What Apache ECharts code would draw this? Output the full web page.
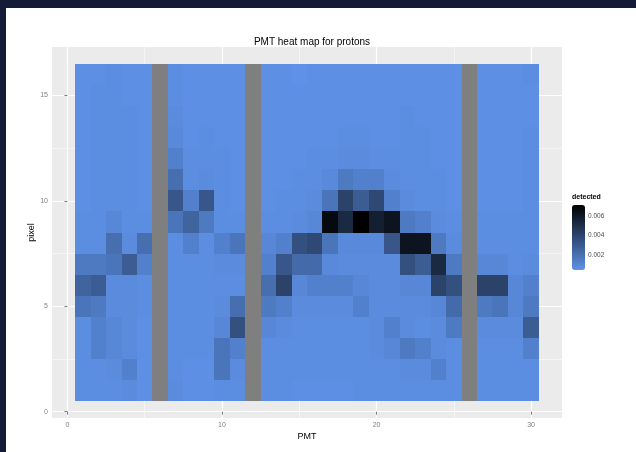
<!DOCTYPE html>
<html>
<head>
<meta charset="utf-8">
<script src="https://cdn.jsdelivr.net/npm/echarts@6/dist/echarts.min.js"></script>
<style>
html,body{margin:0;padding:0;background:#ffffff;}
#chart{width:636px;height:452px;}
</style>
</head>
<body>
<div id="chart"></div>
<script>
// ---- data ----
const pmt = [1,2,3,4,5,6,7,8,9,10,11,12,13,14,15,16,17,18,19,20,21,22,23,24,25,26,27,28,29,30];
const pixel = [1,2,3,4,5,6,7,8,9,10,11,12,13,14,15,16];

const pixel16 = [0.0006,0.0006,0.0007,0.0006,0.0006,null,0.0007,0.0006,0.0006,0.0006,0.0006,null,0.0006,0.0006,0.0005,0.0006,0.0006,0.0006,0.0006,0.0006,0.0006,0.0006,0.0006,0.0006,0.0006,null,0.0006,0.0006,0.0006,0.0007];
const pixel15 = [0.0006,0.0007,0.0007,0.0006,0.0006,null,0.0007,0.0006,0.0006,0.0006,0.0006,null,0.0006,0.0006,0.0006,0.0006,0.0006,0.0006,0.0006,0.0006,0.0006,0.0006,0.0006,0.0006,0.0006,null,0.0006,0.0006,0.0006,0.0006];
const pixel14 = [0.0006,0.0007,0.0007,0.0007,0.0006,null,0.0008,0.0006,0.0006,0.0006,0.0006,null,0.0006,0.0006,0.0006,0.0006,0.0006,0.0006,0.0006,0.0006,0.0006,0.0007,0.0006,0.0006,0.0006,null,0.0006,0.0006,0.0006,0.0006];
const pixel13 = [0.0006,0.0007,0.0007,0.0007,0.0006,null,0.0009,0.0006,0.0007,0.0006,0.0006,null,0.0006,0.0006,0.0006,0.0006,0.0006,0.0007,0.0007,0.0006,0.0006,0.0007,0.0007,0.0006,0.0006,null,0.0006,0.0006,0.0006,0.0007];
const pixel12 = [0.0006,0.0007,0.0007,0.0007,0.0006,null,0.0013,0.0007,0.0007,0.0007,0.0006,null,0.0006,0.0006,0.0006,0.0007,0.0007,0.0008,0.0008,0.0007,0.0007,0.0007,0.0007,0.0006,0.0006,null,0.0006,0.0006,0.0006,0.0007];
const pixel11 = [0.0006,0.0007,0.0007,0.0007,0.0006,null,0.0021,0.0007,0.0008,0.0007,0.0006,null,0.0006,0.0006,0.0007,0.0007,0.0009,0.0016,0.0013,0.0013,0.0008,0.0007,0.0007,0.0007,0.0006,null,0.0006,0.0006,0.0006,0.0007];
const pixel10 = [0.0006,0.0007,0.0007,0.0007,0.0006,null,0.0032,0.0013,0.0032,0.0007,0.0006,null,0.0006,0.0007,0.0007,0.0008,0.0018,0.0041,0.0029,0.0038,0.0013,0.0008,0.0007,0.0007,0.0006,null,0.0006,0.0006,0.0006,0.0007];
const pixel9  = [0.0007,0.0007,0.0010,0.0007,0.0007,null,0.0018,0.0026,0.0016,0.0007,0.0007,null,0.0007,0.0007,0.0008,0.0010,0.0067,0.0052,0.0071,0.0057,0.0062,0.0016,0.0013,0.0008,0.0007,null,0.0007,0.0007,0.0007,0.0007];
const pixel8  = [0.0007,0.0007,0.0021,0.0008,0.0021,null,0.0007,0.0013,0.0007,0.0013,0.0018,null,0.0010,0.0013,0.0035,0.0038,0.0018,0.0009,0.0009,0.0009,0.0032,0.0062,0.0062,0.0016,0.0008,null,0.0007,0.0007,0.0007,0.0007];
const pixel7  = [0.0016,0.0016,0.0018,0.0029,0.0013,null,0.0007,0.0007,0.0007,0.0008,0.0008,null,0.0013,0.0032,0.0023,0.0023,0.0009,0.0008,0.0008,0.0008,0.0008,0.0035,0.0029,0.0052,0.0016,null,0.0010,0.0010,0.0007,0.0008];
const pixel6  = [0.0026,0.0029,0.0008,0.0008,0.0007,null,0.0007,0.0007,0.0007,0.0007,0.0007,null,0.0021,0.0041,0.0010,0.0013,0.0013,0.0013,0.0010,0.0008,0.0008,0.0010,0.0010,0.0041,0.0035,null,0.0041,0.0041,0.0010,0.0013];
const pixel5  = [0.0018,0.0016,0.0008,0.0008,0.0007,null,0.0007,0.0007,0.0007,0.0008,0.0021,null,0.0016,0.0013,0.0008,0.0008,0.0008,0.0008,0.0013,0.0008,0.0008,0.0008,0.0008,0.0010,0.0023,null,0.0016,0.0018,0.0010,0.0016];
const pixel4  = [0.0007,0.0013,0.0010,0.0008,0.0006,null,0.0007,0.0007,0.0007,0.0010,0.0035,null,0.0010,0.0008,0.0007,0.0007,0.0007,0.0007,0.0007,0.0008,0.0013,0.0008,0.0007,0.0008,0.0016,null,0.0008,0.0008,0.0008,0.0029];
const pixel3  = [0.0007,0.0013,0.0010,0.0008,0.0006,null,0.0007,0.0007,0.0007,0.0018,0.0013,null,0.0007,0.0007,0.0007,0.0007,0.0007,0.0007,0.0007,0.0008,0.0010,0.0016,0.0013,0.0008,0.0007,null,0.0007,0.0007,0.0007,0.0013];
const pixel2  = [0.0007,0.0007,0.0008,0.0013,0.0006,null,0.0007,0.0006,0.0006,0.0018,0.0008,null,0.0007,0.0007,0.0007,0.0007,0.0007,0.0007,0.0007,0.0007,0.0007,0.0008,0.0008,0.0013,0.0007,null,0.0007,0.0007,0.0007,0.0007];
const pixel1  = [0.0007,0.0007,0.0007,0.0008,0.0006,null,0.0008,0.0006,0.0006,0.0007,0.0007,null,0.0007,0.0007,0.0006,0.0006,0.0006,0.0006,0.0007,0.0007,0.0007,0.0007,0.0007,0.0007,0.0007,null,0.0007,0.0007,0.0007,0.0007];

const detectedRows = [pixel1,pixel2,pixel3,pixel4,pixel5,pixel6,pixel7,pixel8,pixel9,pixel10,pixel11,pixel12,pixel13,pixel14,pixel15,pixel16];

const xTickValues = [0,10,20,30];
const xMinorValues = [5,15,25];
const yTickValues = [0,5,10,15];
const yMinorValues = [2.5,7.5,12.5];
const legendTickValues = [0.002,0.004,0.006];

// ---- build series data ----
const cells = [];
const naCells = [];
detectedRows.forEach(function (row, i) {
  row.forEach(function (v, j) {
    if (v === null) naCells.push([pmt[j], pixel[i]]);
    else cells.push([pmt[j], pixel[i], v]);
  });
});
let vmin = Infinity, vmax = -Infinity;
cells.forEach(function (c) { vmin = Math.min(vmin, c[2]); vmax = Math.max(vmax, c[2]); });

function renderTile(params, api) {
  const x = api.value(0), y = api.value(1);
  const a = api.coord([x - 0.5, y + 0.5]);
  const b = api.coord([x + 0.5, y - 0.5]);
  const x0 = Math.round(a[0]), y0 = Math.round(a[1]);
  const x1 = Math.round(b[0]), y1 = Math.round(b[1]);
  return {
    type: 'rect',
    shape: { x: x0, y: y0, width: x1 - x0, height: y1 - y0 },
    style: { fill: api.visual('color') }
  };
}

const FONT = '"Liberation Sans", Arial, Helvetica, sans-serif';
const chart = echarts.init(document.getElementById('chart'), null, { renderer: 'canvas' });

chart.setOption({
  animation: false,
  backgroundColor: '#ffffff',
  textStyle: { fontFamily: FONT },
  title: {
    text: 'PMT heat map for protons',
    left: 307,
    textAlign: 'center',
    top: 32,
    textStyle: { fontSize: 10, fontWeight: 'normal', color: '#000000', fontFamily: FONT }
  },
  grid: [
    { left: 52, right: 74, top: 47, bottom: 34, show: true, backgroundColor: '#EBEBEB', borderWidth: 0 },
    { left: 572, top: 205, width: 13, height: 65, show: false }
  ],
  xAxis: [
    {
      gridIndex: 0, type: 'value', min: -1, max: 32,
      axisLine: { show: false },
      axisTick: { show: true, length: 3, lineStyle: { color: '#7F7F7F', width: 1 }, customValues: xTickValues },
      axisLabel: { customValues: xTickValues, color: '#7F7F7F', fontSize: 7, margin: 4, fontFamily: FONT },
      splitLine: { show: true, lineStyle: { color: '#ffffff', width: 1.2 } },
      name: 'PMT', nameLocation: 'middle', nameGap: 14, nameMoveOverlap: false,
      nameTextStyle: { color: '#000000', fontSize: 9, fontFamily: FONT }
    },
    {
      gridIndex: 0, type: 'value', min: -1, max: 32, position: 'bottom',
      axisLine: { show: false },
      axisTick: { show: false, customValues: xMinorValues },
      axisLabel: { show: false, customValues: xMinorValues },
      splitLine: { show: true, lineStyle: { color: '#ffffff', width: 0.5 } }
    },
    { gridIndex: 1, type: 'category', data: ['detected'], show: false }
  ],
  yAxis: [
    {
      gridIndex: 0, type: 'value', min: -0.3, max: 17.3,
      axisLine: { show: false },
      axisTick: { show: true, length: 3, lineStyle: { color: '#7F7F7F', width: 1 }, customValues: yTickValues },
      axisLabel: { customValues: yTickValues, color: '#7F7F7F', fontSize: 7, margin: 4, fontFamily: FONT },
      splitLine: { show: true, lineStyle: { color: '#ffffff', width: 1.2 } },
      name: 'pixel', nameLocation: 'middle', nameGap: 16, nameRotate: 90, nameMoveOverlap: false,
      nameTextStyle: { color: '#000000', fontSize: 9, fontFamily: FONT }
    },
    {
      gridIndex: 0, type: 'value', min: -0.3, max: 17.3, position: 'left',
      axisLine: { show: false },
      axisTick: { show: false, customValues: yMinorValues },
      axisLabel: { show: false, customValues: yMinorValues },
      splitLine: { show: true, lineStyle: { color: '#ffffff', width: 0.5 } }
    },
    {
      gridIndex: 1, type: 'value', min: vmin, max: vmax, position: 'right',
      axisLine: { show: false },
      axisTick: { show: true, inside: true, length: 3, lineStyle: { color: '#ffffff', width: 1 }, customValues: legendTickValues },
      axisLabel: { customValues: legendTickValues, color: '#4D4D4D', fontSize: 6.5, margin: 3, fontFamily: FONT },
      splitLine: { show: false }
    }
  ],
  visualMap: {
    type: 'continuous',
    seriesIndex: 0,
    dimension: 2,
    min: vmin,
    max: vmax,
    calculable: false,
    hoverLink: false,
    realtime: false,
    left: 572,
    top: 205,
    itemWidth: 13,
    itemHeight: 65,
    padding: 0,
    inRange: { color: ['#5e92e8', '#000000'] }
  },
  graphic: [
    { type: 'text', left: 572, top: 194, style: { text: 'detected', fill: '#000000', font: 'bold 7px ' + FONT } },
    { type: 'rect', left: 0, top: 0, shape: { width: 636, height: 8 }, style: { fill: '#141b37' }, z: 100 },
    { type: 'rect', left: 0, top: 0, shape: { width: 6, height: 452 }, style: { fill: '#141b37' }, z: 100 }
  ],
  series: [
    {
      type: 'custom', name: 'detected', xAxisIndex: 0, yAxisIndex: 0,
      renderItem: renderTile, data: cells, encode: { x: 0, y: 1 }, silent: true, clip: true
    },
    {
      type: 'custom', name: 'NA', xAxisIndex: 0, yAxisIndex: 0,
      renderItem: renderTile, data: naCells, encode: { x: 0, y: 1 }, silent: true, clip: true,
      itemStyle: { color: '#7F7F7F' }
    }
  ]
});
</script>
</body>
</html>
